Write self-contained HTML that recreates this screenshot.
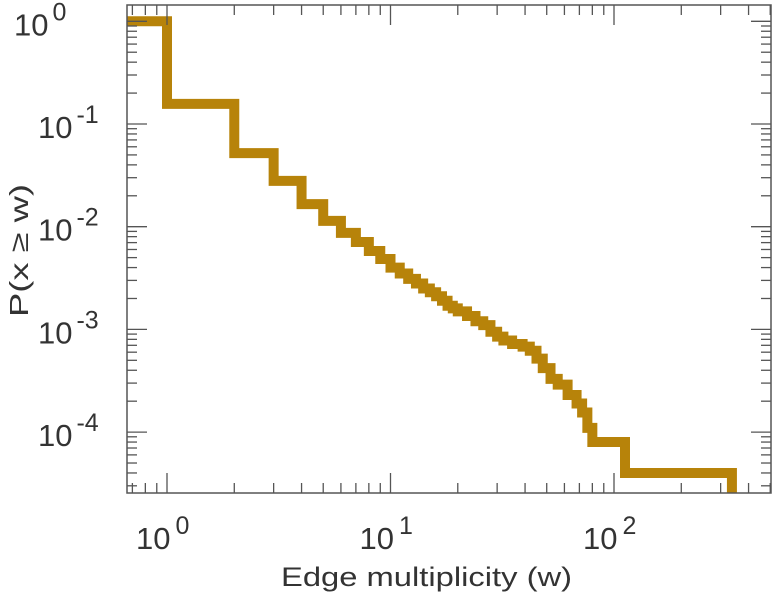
<!DOCTYPE html>
<html><head><meta charset="utf-8"><style>
html,body{margin:0;padding:0;background:#fff;}
svg{display:block;font-family:"Liberation Sans",sans-serif;}
</style></head><body>
<svg id="chart" width="773" height="600" viewBox="0 0 773 600" xmlns="http://www.w3.org/2000/svg"></svg>
<script>
const stepW = [0.662,1,2,3,4,5,6,7,8,9,10,11,12,13,14,15,16,17,18,19,20,22,24,26,28,30,32,35,39,42,45,48,52,56,62,68,72,76,80,112];
const stepP = [1,0.157,0.052,0.0279,0.0166,0.0114,0.0087,0.0071,0.0058,0.00485,0.0040,0.0035,0.0031,0.0028,0.0025,0.0023,0.0021,0.0019,0.0017,0.0016,0.0015,0.00135,0.0012,0.0011,0.00095,0.00085,0.00078,0.00072,0.00068,0.00062,0.00052,0.00042,0.00033,0.00029,0.00023,0.00019,0.000155,0.00011,0.00008,0.00004];
const lastW = 337;
const xDecades = [0,1,2];
const yDecades = [0,-1,-2,-3,-4];

const L=127,R=771,T=5,B=493;
const X0=167, DX=223.5, Y1=124, DY=102.7;
const xs = w => X0 + DX*Math.log10(w);
const ys = p => Y1 + DY*(-1 - Math.log10(p));
const NS="http://www.w3.org/2000/svg";
const svg=document.getElementById('chart');
function mk(tag,attrs,parent){const e=document.createElementNS(NS,tag);for(const k in attrs)e.setAttribute(k,attrs[k]);(parent||svg).appendChild(e);return e;}

// series
let d=`M${xs(stepW[0])},${ys(stepP[0])}`;
for(let i=1;i<stepW.length;i++){d+=` H${xs(stepW[i])} V${ys(stepP[i])}`;}
d+=` H${xs(lastW)} V${B}`;
const line=mk('path',{d:d,fill:'none',stroke:'#b7830a','stroke-width':10,'stroke-linejoin':'miter','stroke-linecap':'butt'});



// ticks
const tg=mk('g',{stroke:'#555','stroke-width':1.3});


for(let e=-1;e<=3;e++){for(let m=1;m<10;m++){const x=xs(m*Math.pow(10,e));if(x<L||x>R)continue;const len=m===1?20:10;
 mk('line',{x1:x,y1:B,x2:x,y2:B-len},tg);mk('line',{x1:x,y1:T,x2:x,y2:T+len},tg);}}
for(let e=-6;e<=1;e++){for(let m=1;m<10;m++){const y=ys(m*Math.pow(10,e));if(y<T||y>B)continue;const len=m===1?20:10;
 mk('line',{x1:L,y1:y,x2:L+len,y2:y},tg);mk('line',{x1:R,y1:y,x2:R-len,y2:y},tg);}}

// frame
const fr=mk('rect',{x:L,y:T,width:R-L,height:B-T,fill:'none',stroke:'#555','stroke-width':1.5});



// x labels
xDecades.forEach(e=>{const x=xs(Math.pow(10,e));
 const t=mk('text',{x:x-31,y:549,'font-size':31,fill:'#333'});t.textContent='10';
 
 
 const s=mk('tspan',{dx:5,dy:-15,'font-size':25},t);s.textContent=String(e);});
// y labels
yDecades.forEach(e=>{const y=ys(Math.pow(10,e));
 const t=mk('text',{x:e<0?38:14,y:y+14,'font-size':31,fill:'#333'});t.textContent='10';
 
 
 const s=mk('tspan',{dx:4,dy:-15,'font-size':25},t);s.textContent=String(e);});

const xt=mk('text',{x:281,y:586,'font-size':27,fill:'#333',textLength:291,lengthAdjust:'spacingAndGlyphs'});xt.textContent='Edge multiplicity (w)';


const yt=mk('text',{x:-66,y:0,'font-size':26,fill:'#333',textLength:133,lengthAdjust:'spacingAndGlyphs',transform:'translate(28,251) rotate(-90)'});yt.textContent='P(x \u2265 w)';


</script>
</body></html>
